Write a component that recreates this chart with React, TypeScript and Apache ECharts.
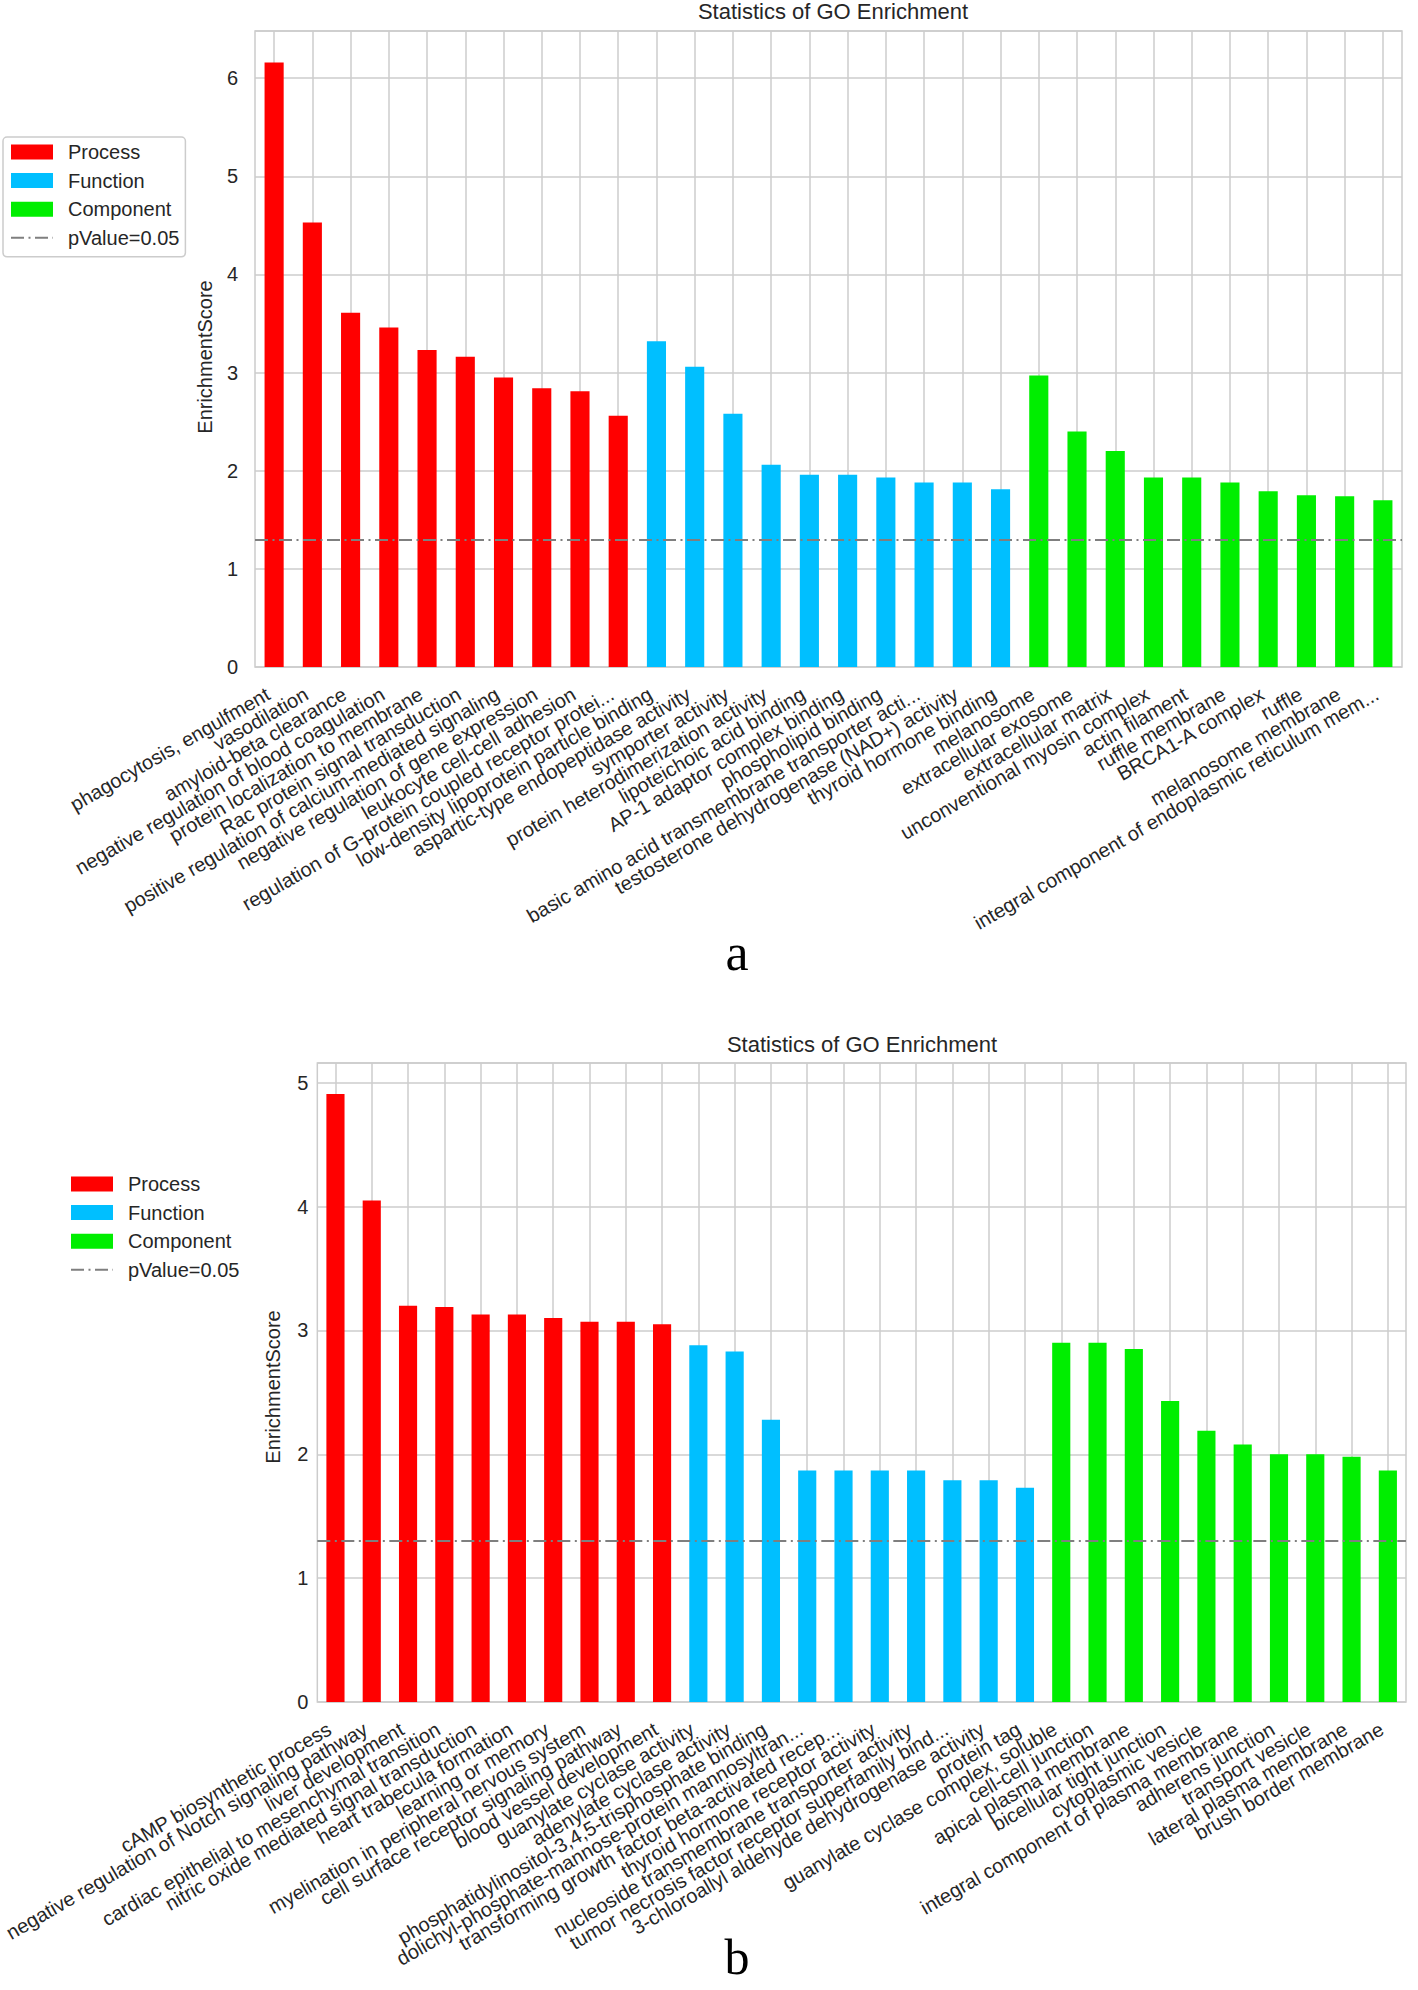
import React, { useEffect, useRef } from 'react';
import * as echarts from 'echarts';

// ---------- Data: panel a ----------
const categoriesA = [
  'phagocytosis, engulfment',
  'vasodilation',
  'amyloid-beta clearance',
  'negative regulation of blood coagulation',
  'protein localization to membrane',
  'Rac protein signal transduction',
  'positive regulation of calcium-mediated signaling',
  'negative regulation of gene expression',
  'leukocyte cell-cell adhesion',
  'regulation of G-protein coupled receptor protei...',
  'low-density lipoprotein particle binding',
  'aspartic-type endopeptidase activity',
  'symporter activity',
  'protein heterodimerization activity',
  'lipoteichoic acid binding',
  'AP-1 adaptor complex binding',
  'phospholipid binding',
  'basic amino acid transmembrane transporter acti...',
  'testosterone dehydrogenase (NAD+) activity',
  'thyroid hormone binding',
  'melanosome',
  'extracellular exosome',
  'extracellular matrix',
  'unconventional myosin complex',
  'actin filament',
  'ruffle membrane',
  'BRCA1-A complex',
  'ruffle',
  'melanosome membrane',
  'integral component of endoplasmic reticulum mem...',
];
const processA = [6.16, 4.53, 3.61, 3.46, 3.23, 3.16, 2.95, 2.84, 2.81, 2.56];
const functionA = [3.32, 3.06, 2.58, 2.06, 1.96, 1.96, 1.93, 1.88, 1.88, 1.81];
const componentA = [2.97, 2.4, 2.2, 1.93, 1.93, 1.88, 1.79, 1.75, 1.74, 1.7];

// ---------- Data: panel b ----------
const categoriesB = [
  'cAMP biosynthetic process',
  'negative regulation of Notch signaling pathway',
  'liver development',
  'cardiac epithelial to mesenchymal transition',
  'nitric oxide mediated signal transduction',
  'heart trabecula formation',
  'learning or memory',
  'myelination in peripheral nervous system',
  'cell surface receptor signaling pathway',
  'blood vessel development',
  'guanylate cyclase activity',
  'adenylate cyclase activity',
  'phosphatidylinositol-3,4,5-trisphosphate binding',
  'dolichyl-phosphate-mannose-protein mannosyltran...',
  'transforming growth factor beta-activated recep...',
  'thyroid hormone receptor activity',
  'nucleoside transmembrane transporter activity',
  'tumor necrosis factor receptor superfamily bind...',
  '3-chloroallyl aldehyde dehydrogenase activity',
  'protein tag',
  'guanylate cyclase complex, soluble',
  'cell-cell junction',
  'apical plasma membrane',
  'bicellular tight junction',
  'cytoplasmic vesicle',
  'integral component of plasma membrane',
  'adherens junction',
  'transport vesicle',
  'lateral plasma membrane',
  'brush border membrane',
];
const processB = [4.91, 4.05, 3.2, 3.19, 3.13, 3.13, 3.1, 3.07, 3.07, 3.05];
const functionB = [2.88, 2.83, 2.28, 1.87, 1.87, 1.87, 1.87, 1.79, 1.79, 1.73];
const componentB = [2.9, 2.9, 2.85, 2.43, 2.19, 2.08, 2.0, 2.0, 1.98, 1.87];

const pValueLine = 1.301; // -log10(0.05)
const yMaxA = 6.48;
const yMaxB = 5.16;
const legendNames = ['Process', 'Function', 'Component', 'pValue=0.05'];
const titleText = 'Statistics of GO Enrichment';
const yAxisName = 'EnrichmentScore';

// ---------- Style ----------
const RED = '#FF0000';
const BLUE = '#00BFFF';
const GREEN = '#00EE00';
const GRID = '#cccccc';
const TEXT = '#262626';
const FONT = '"Liberation Sans", Arial, Helvetica, sans-serif';
const SERIF = '"Liberation Serif", "Times New Roman", serif';
const DASHDOT = [13, 4.5, 2, 4.5];

function pad(arr: number[], before: number, after: number) {
  const out: (number | string)[] = [];
  for (let i = 0; i < before; i++) out.push('-');
  arr.forEach((v) => out.push(v));
  for (let i = 0; i < after; i++) out.push('-');
  return out;
}

function panelSeries(idx: number, proc: number[], func: number[], comp: number[]) {
  const n = proc.length + func.length + comp.length;
  const common = {
    type: 'bar',
    xAxisIndex: idx,
    yAxisIndex: idx,
    stack: 'panel' + idx,
    barWidth: '50%',
  };
  return [
    { ...common, name: legendNames[0], itemStyle: { color: RED }, data: pad(proc, 0, n - proc.length) },
    { ...common, name: legendNames[1], itemStyle: { color: BLUE }, data: pad(func, proc.length, comp.length) },
    { ...common, name: legendNames[2], itemStyle: { color: GREEN }, data: pad(comp, proc.length + func.length, 0) },
    {
      type: 'line',
      name: legendNames[3],
      xAxisIndex: idx,
      yAxisIndex: idx,
      data: [],
      symbol: 'none',
      showSymbol: false,
      lineStyle: { color: '#7f7f7f', width: 2.2, type: DASHDOT },
      itemStyle: { color: '#7f7f7f' },
      markLine: {
        silent: true,
        symbol: 'none',
        label: { show: false },
        lineStyle: { color: '#7f7f7f', width: 2.2, type: DASHDOT },
        data: [{ yAxis: pValueLine }],
      },
    },
  ];
}

function xAxis(idx: number, data: string[]) {
  return {
    type: 'category',
    gridIndex: idx,
    data,
    axisLine: { show: false },
    axisTick: { show: false },
    axisLabel: {
      rotate: 30,
      interval: 0,
      fontSize: 20,
      color: TEXT,
      fontFamily: FONT,
      margin: 22,
      padding: [0, 7, 0, 0],
    },
    splitLine: { show: true, interval: 0, alignWithLabel: true, lineStyle: { color: GRID, width: 1.5 } },
  };
}

function yAxis(idx: number, max: number, margin: number) {
  return {
    type: 'value',
    gridIndex: idx,
    min: 0,
    max,
    interval: 1,
    axisLine: { show: false },
    axisTick: { show: false },
    axisLabel: { fontSize: 20, color: TEXT, fontFamily: FONT, margin, showMaxLabel: false },
    splitLine: { show: true, lineStyle: { color: GRID, width: 1.5 } },
  };
}

function legend(left: number, top: number, boxed: boolean) {
  return {
    orient: 'vertical',
    left,
    top,
    selectedMode: false,
    itemWidth: 42,
    itemHeight: 15,
    itemGap: 8.6,
    padding: boxed ? [5, 6, 9, 7] : 0,
    borderColor: boxed ? GRID : 'transparent',
    borderWidth: boxed ? 1.5 : 0,
    borderRadius: 4,
    backgroundColor: boxed ? '#ffffff' : 'transparent',
    textStyle: { fontSize: 20, color: TEXT, fontFamily: FONT, lineHeight: 20, padding: [0, 0, 0, 10] },
    data: [
      { name: legendNames[0], icon: 'rect' },
      { name: legendNames[1], icon: 'rect' },
      { name: legendNames[2], icon: 'rect' },
      { name: legendNames[3], itemStyle: { opacity: 0 } },
    ],
  };
}

function textEl(
  text: string,
  x: number,
  y: number,
  size: number,
  rotation = 0,
  family = FONT,
  color = TEXT,
  lineHeight?: number
) {
  return {
    type: 'text',
    x,
    y,
    rotation,
    style: {
      text,
      fontSize: size,
      fontFamily: family,
      fill: color,
      align: 'center',
      verticalAlign: 'middle',
      lineHeight: lineHeight || size,
    },
  };
}

export default function App() {
  const ref = useRef<HTMLDivElement>(null);
  useEffect(() => {
    if (!ref.current) return;
    const chart = echarts.init(ref.current, undefined, { renderer: 'svg' });
    chart.setOption({
      animation: false,
      backgroundColor: '#ffffff',
      grid: [
        { left: 255, top: 31, width: 1147, height: 636, show: true, borderColor: GRID, borderWidth: 1.5, backgroundColor: 'transparent' },
        { left: 311, top: 1063, width: 1095, height: 639, show: true, borderColor: GRID, borderWidth: 1.5, backgroundColor: 'transparent' },
      ],
      xAxis: [xAxis(0, categoriesA), xAxis(1, categoriesB)],
      yAxis: [yAxis(0, yMaxA, 17), yAxis(1, yMaxB, 9)],
      legend: [legend(3, 137, true), legend(70, 1174, false)],
      series: [...panelSeries(0, processA, functionA, componentA), ...panelSeries(1, processB, functionB, componentB)],
      graphic: [
        textEl(titleText, 833, 11, 22),
        textEl(titleText, 862, 1044, 22),
        textEl(yAxisName, 205, 357, 20, Math.PI / 2),
        textEl(yAxisName, 273, 1387, 20, Math.PI / 2),
        textEl('a', 737, 952, 52, 0, SERIF, '#000000', 40),
        textEl('b', 737, 1957, 50, 0, SERIF, '#000000', 40),
      ],
    });
    return () => chart.dispose();
  }, []);
  return <div ref={ref} style={{ position: 'absolute', left: 0, top: 0, width: 1418, height: 1990 }} />;
}
